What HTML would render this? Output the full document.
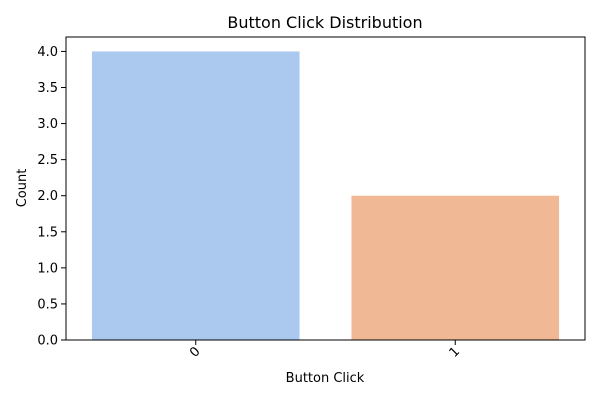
<!DOCTYPE html>
<html><head><meta charset="utf-8"><style>
body{margin:0;background:#fff;width:600px;height:400px;overflow:hidden}
text{font-family:"DejaVu Sans","Liberation Sans",sans-serif;fill:#000}
</style></head><body>
<svg id="c" width="600" height="400"></svg>
<script>
const categories=["0","1"];
const counts=[4,2];
const colors=["#abc9ee","#f0b894"];
const yTicks=[0,0.5,1.0,1.5,2.0,2.5,3.0,3.5,4.0];
const L=66,R=585,T=37,B=340,yMax=4.2;
const svg=document.getElementById('c');
const NS='http://www.w3.org/2000/svg';
function y(v){return B-(v/yMax)*(B-T);}
const bw=(R-L)/categories.length;
function x(i){return L+bw*(i+0.5);}
function mk(t,a,p){const e=document.createElementNS(NS,t);for(const k in a)e.setAttribute(k,a[k]);(p||svg).appendChild(e);return e;}
categories.forEach((c,i)=>{
 const r=mk('rect',{x:x(i)-bw*0.4,y:y(counts[i]),width:bw*0.8,height:B-y(counts[i]),fill:colors[i]});
 
 
 mk('line',{x1:x(i),x2:x(i),y1:B,y2:B+5,stroke:'#000','stroke-width':1});
 const t=mk('text',{x:0,y:0,'font-size':13,'text-anchor':'end',transform:`translate(${x(i)+5},${B+12}) rotate(-45)`});
 t.textContent=c;
 
 
});
yTicks.forEach(v=>{
 mk('line',{x1:L-5,x2:L,y1:y(v),y2:y(v),stroke:'#000','stroke-width':1});
 const t=mk('text',{x:L-8,y:y(v)+4.5,'font-size':13,'text-anchor':'end'});
 t.textContent=v.toFixed(1);
 
 
});
const f=mk('rect',{x:L,y:T,width:R-L,height:B-T,fill:'none',stroke:'#000','stroke-width':1});


</script>
<svg width="600" height="400" style="position:absolute;left:0;top:0">
<text x="325" y="28" font-size="16" text-anchor="middle">Button Click Distribution</text>
<text x="325" y="382" font-size="13" text-anchor="middle">Button Click</text>
<text x="0" y="0" font-size="13" text-anchor="middle" transform="translate(26,188) rotate(-90)">Count</text>
</svg>
</body></html>
